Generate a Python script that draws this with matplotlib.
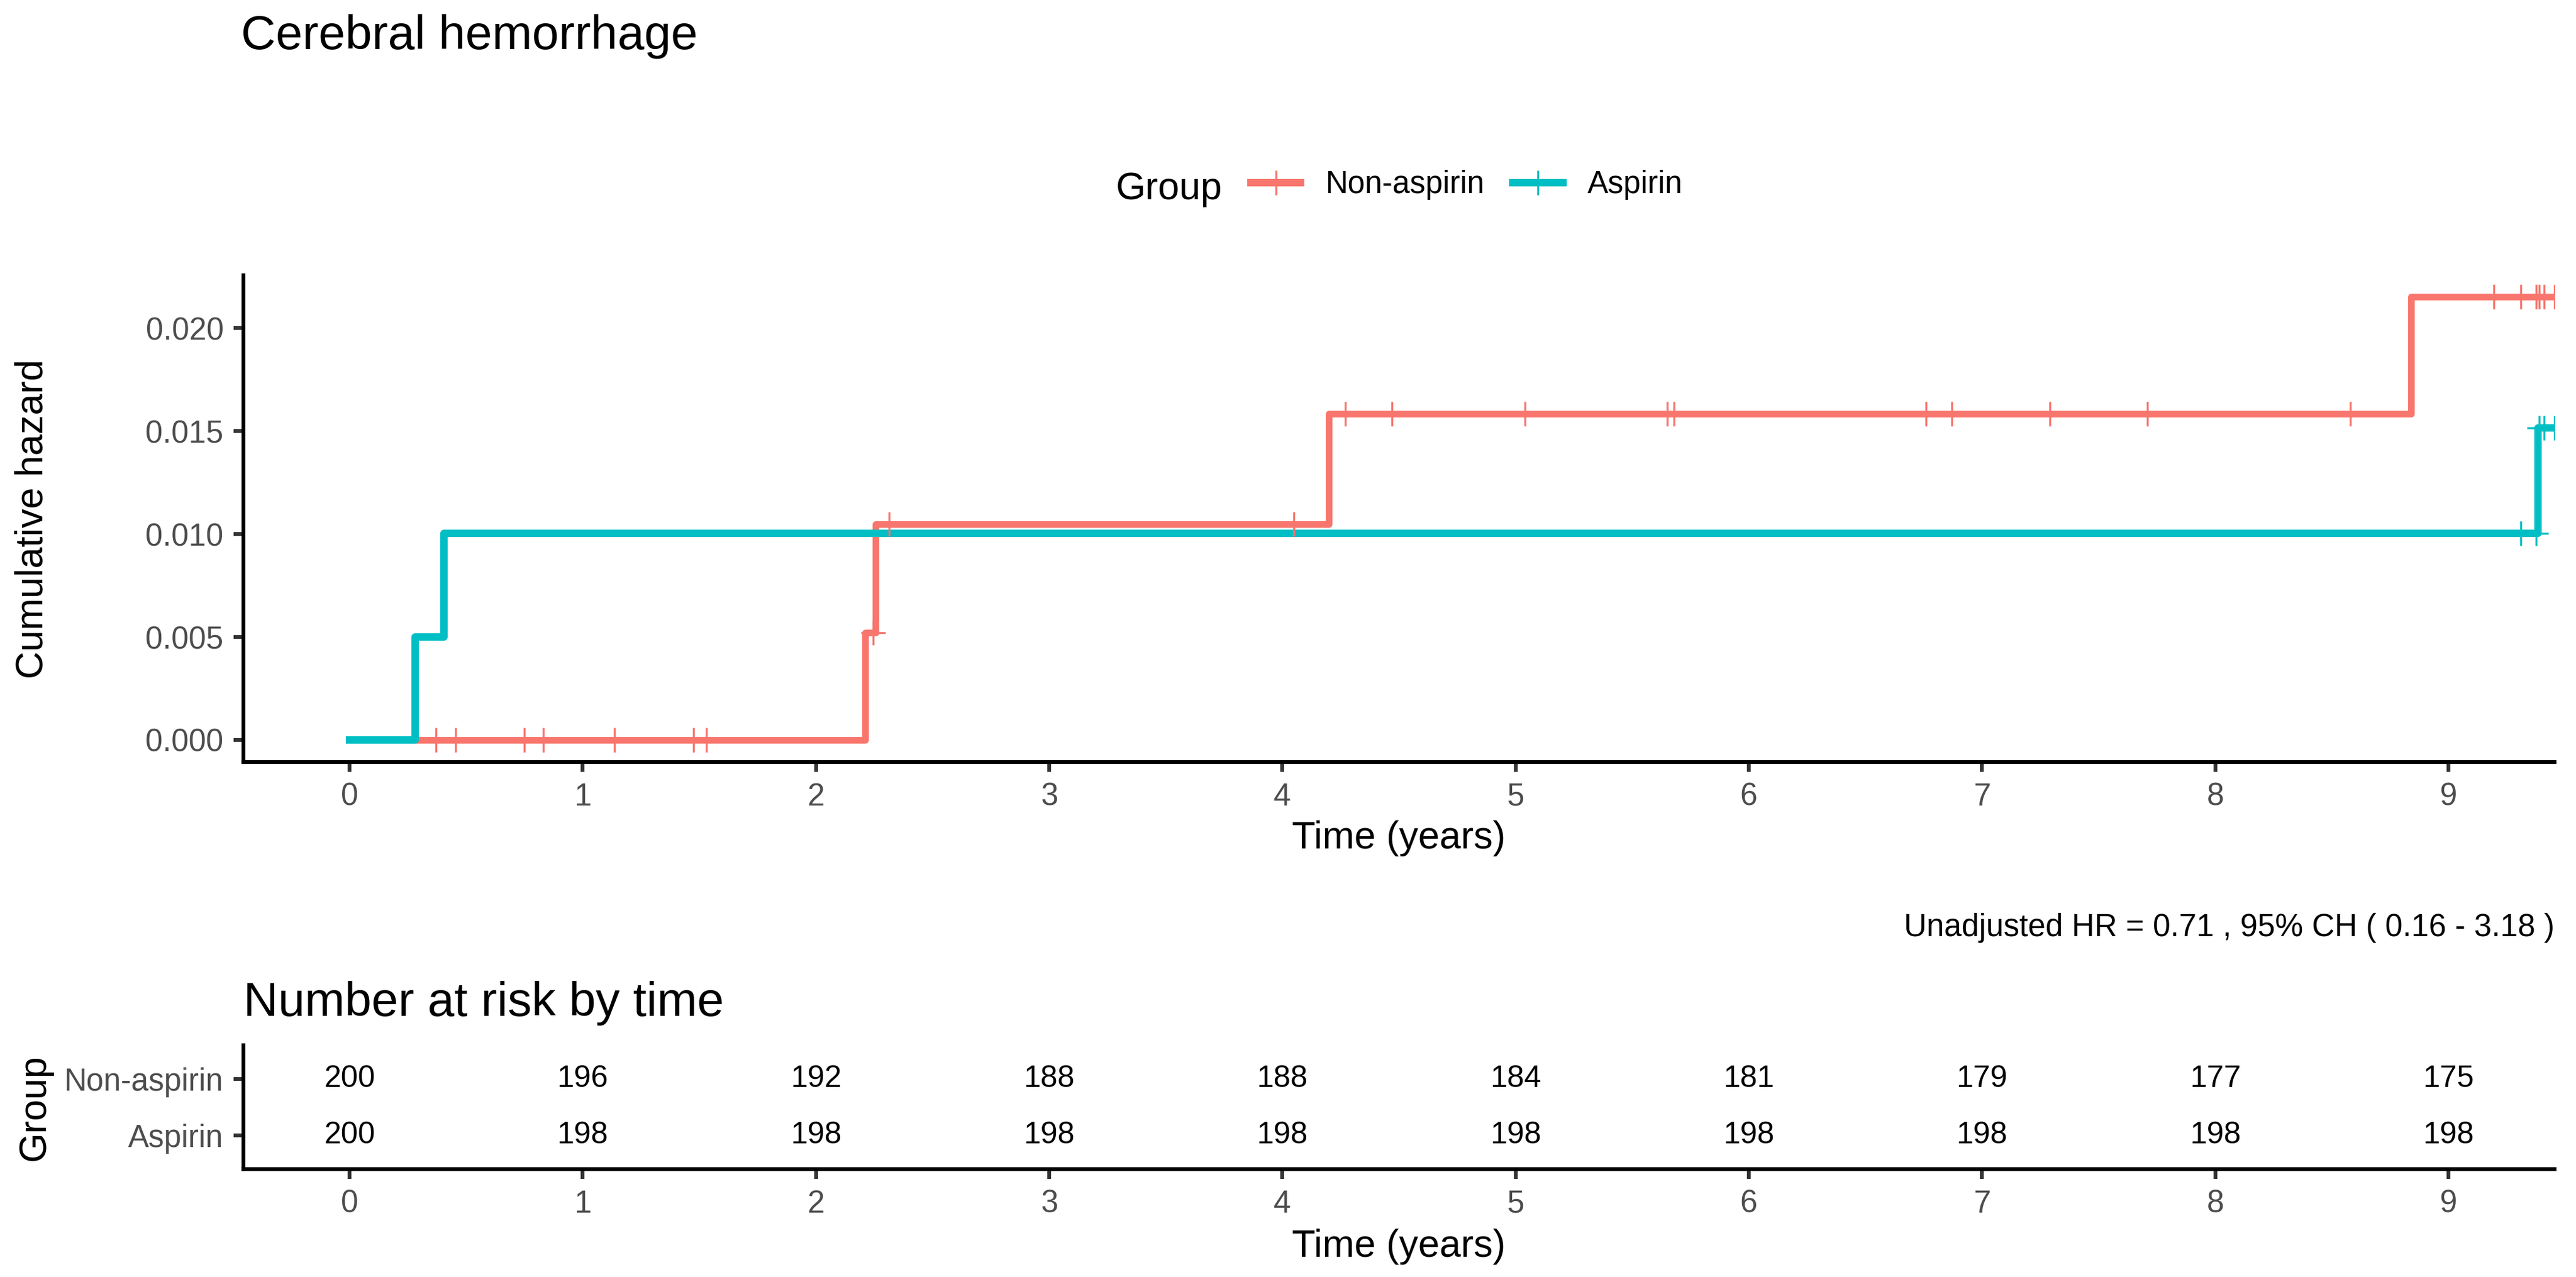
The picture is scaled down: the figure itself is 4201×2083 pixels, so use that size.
import matplotlib
matplotlib.use("Agg")
import matplotlib.pyplot as plt
from matplotlib.lines import Line2D
from matplotlib.ticker import FormatStrFormatter

plt.rcParams['font.family'] = ['Liberation Sans', 'DejaVu Sans']

W, H = 4201, 2083

groups = ['Non-aspirin', 'Aspirin']
colors = ['#F8766D', '#00BFC4']

# cumulative hazard step curves (years, hazard)
non_times = [0, 2.21, 2.255, 4.20, 8.84, 9.455]
non_haz = [0, 0.00521, 0.01047, 0.01585, 0.02153, 0.02153]
asp_times = [0, 0.28, 0.405, 9.385, 9.455]
asp_haz = [0, 0.00500, 0.01003, 0.01517, 0.01517]

# censoring times
non_cens = [0.37, 0.455, 0.75, 0.83, 1.135, 1.475, 1.53, 2.245, 2.315, 4.05,
            4.27, 4.47, 5.04, 5.65, 5.68, 6.76, 6.87, 7.29, 7.71, 8.58,
            9.196, 9.31, 9.375, 9.39, 9.41, 9.455]
asp_cens = [9.31, 9.375, 9.39, 9.41, 9.455]

# number at risk table
risk_times = [0, 1, 2, 3, 4, 5, 6, 7, 8, 9]
non_risk = [200, 196, 192, 188, 188, 184, 181, 179, 177, 175]
asp_risk = [200, 198, 198, 198, 198, 198, 198, 198, 198, 198]

hr_text = 'Unadjusted HR = 0.71 , 95% CH ( 0.16 - 3.18 )'

grey = '#4D4D4D'


def level_at(times, haz, t):
    v = haz[0]
    for ti, hi in zip(times, haz):
        if ti <= t:
            v = hi
    return v


def style_axis(ax):
    for s in ['top', 'right']:
        ax.spines[s].set_visible(False)
    for s in ['left', 'bottom']:
        ax.spines[s].set_linewidth(1.5)
    ax.tick_params(length=3.8, width=1.5, color='#333333', labelcolor=grey,
                   labelsize=12.2, pad=4)


fig = plt.figure(figsize=(W / 300, H / 300), dpi=300)

# main plot
ax = fig.add_axes([397 / W, 1 - 1243 / H, (4166 - 397) / W, (1243 - 449) / H])
curves = [(non_times, non_haz, non_cens), (asp_times, asp_haz, asp_cens)]
for (tt, hh, cc), col, lw in zip(curves, colors, [2.6, 2.9]):
    ax.step(tt, hh, where='post', color=col, lw=lw, zorder=2)
for (tt, hh, cc), col in zip(curves, colors):
    ax.plot(cc, [level_at(tt, hh, c) for c in cc], ls='none', marker='+',
            ms=9.8, mew=0.8, color=col, zorder=3)
ax.set_xlim(-0.455, 9.455)
ax.set_ylim(-0.001075, 0.022575)
ax.set_xticks(risk_times)
ax.set_yticks([0, 0.005, 0.010, 0.015, 0.020])
ax.yaxis.set_major_formatter(FormatStrFormatter('%.3f'))
style_axis(ax)

fig.text(53 / W, 1 - 846 / H, 'Cumulative hazard', rotation=90, fontsize=15,
         ha='center', va='center')
fig.text(2281 / W, 1 - 1384 / H, 'Time (years)', fontsize=15,
         ha='center', va='baseline')
fig.text(393 / W, 1 - 80 / H, 'Cerebral hemorrhage', fontsize=18.8,
         va='baseline')

# legend
fig.text(1820 / W, 1 - 325 / H, 'Group', fontsize=15, va='baseline')
handles = [Line2D([], [], color=c, lw=2.9, marker='+', ms=9.5, mew=0.8)
           for c in colors]
fig.legend(handles, groups, ncol=2, frameon=False, loc='center left',
           bbox_to_anchor=(2040 / W, 1 - 302 / H), fontsize=12.2,
           handlelength=1.6, handletextpad=0.8, columnspacing=0.9,
           borderpad=0, borderaxespad=0)

fig.text(4166 / W, 1 - 1527 / H, hr_text, fontsize=12.3, ha='right',
         va='baseline')

# risk table
fig.text(397 / W, 1 - 1657 / H, 'Number at risk by time', fontsize=18.8,
         va='baseline')
ax2 = fig.add_axes([397 / W, 1 - 1907 / H, (4166 - 397) / W, (1907 - 1705) / H])
for row, counts in zip([2, 1], [non_risk, asp_risk]):
    for t, n in zip(risk_times, counts):
        ax2.text(t, row, str(n), ha='center', va='center', fontsize=12)
ax2.set_xlim(-0.455, 9.455)
ax2.set_ylim(0.4, 2.6)
ax2.set_xticks(risk_times)
ax2.set_yticks([2, 1])
ax2.set_yticklabels(groups)
style_axis(ax2)

fig.text(56 / W, 1 - 1806 / H, 'Group', rotation=90, fontsize=15,
         ha='center', va='center')
fig.text(2281 / W, 1 - 2050 / H, 'Time (years)', fontsize=15,
         ha='center', va='baseline')

plt.savefig('out.png', dpi=300)
